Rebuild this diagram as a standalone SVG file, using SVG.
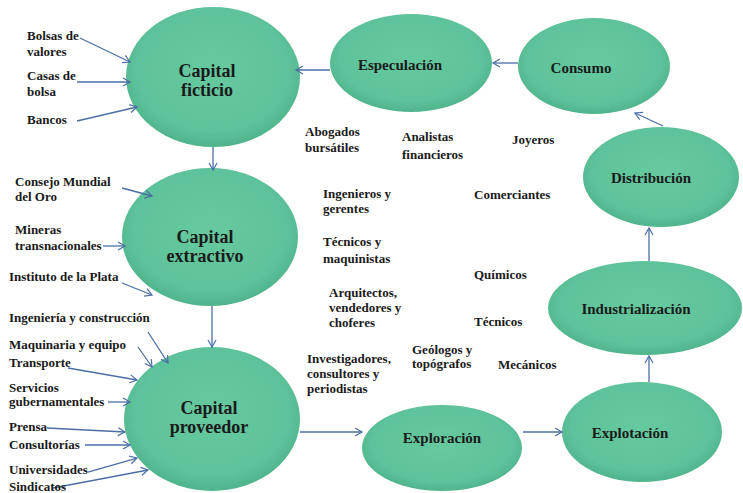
<svg xmlns="http://www.w3.org/2000/svg" width="743" height="493" viewBox="0 0 743 493">
<defs>
<radialGradient id="g" cx="0.5" cy="0.45" r="0.55">
<stop offset="0" stop-color="#66c9a0"/>
<stop offset="0.8" stop-color="#5ec29a"/>
<stop offset="1" stop-color="#4fb38b"/>
</radialGradient>
<marker id="a" markerWidth="10" markerHeight="10" refX="8" refY="5" orient="auto" markerUnits="userSpaceOnUse">
<path d="M1,1 L8,5 L1,9" fill="none" stroke="#4a6fa5" stroke-width="1.2"/>
</marker>
<style>
.n{fill:url(#g);stroke:none}
.c{stroke:#4a6fa5;stroke-width:1.3;fill:none;marker-end:url(#a)}
text{font-family:'Liberation Serif','Times New Roman','DejaVu Serif',serif;font-weight:bold;fill:#1a1a1a}
.t{font-size:13px}
.nt{font-size:15px;text-anchor:middle}
.bt{font-size:18px;text-anchor:middle}
</style>
</defs>
<rect width="743" height="493" fill="#ffffff"/>
<g id="capital-ficticio">
<ellipse class="n" cx="213" cy="77" rx="87" ry="70"/>
<text class="bt" x="207" y="77">Capital</text>
<text class="bt" x="207" y="96">ficticio</text>
</g>
<g id="capital-extractivo">
<ellipse class="n" cx="210" cy="237" rx="88" ry="69"/>
<text class="bt" x="205" y="243">Capital</text>
<text class="bt" x="205" y="262">extractivo</text>
</g>
<g id="capital-proveedor">
<ellipse class="n" cx="212" cy="419" rx="88" ry="72"/>
<text class="bt" x="209" y="414">Capital</text>
<text class="bt" x="209" y="433">proveedor</text>
</g>
<g id="especulacion">
<ellipse class="n" cx="411" cy="63" rx="81" ry="49"/>
<text class="nt" x="400" y="70">Especulación</text>
</g>
<g id="consumo">
<ellipse class="n" cx="594" cy="66" rx="76" ry="48"/>
<text class="nt" x="581" y="73">Consumo</text>
</g>
<g id="distribucion">
<ellipse class="n" cx="661" cy="177" rx="78" ry="50"/>
<text class="nt" x="651" y="183">Distribución</text>
</g>
<g id="industrializacion">
<ellipse class="n" cx="645" cy="308" rx="97" ry="47"/>
<text class="nt" x="636" y="314">Industrialización</text>
</g>
<g id="exploracion">
<ellipse class="n" cx="442" cy="448" rx="80" ry="43"/>
<text class="nt" x="442" y="443">Exploración</text>
</g>
<g id="explotacion">
<ellipse class="n" cx="642" cy="432" rx="80" ry="50"/>
<text class="nt" x="630" y="438">Explotación</text>
</g>
<g id="connectors">
<line class="c" x1="213" y1="147" x2="213" y2="170"/>
<line class="c" x1="212" y1="306" x2="212" y2="347"/>
<line class="c" x1="330" y1="70" x2="296" y2="70"/>
<line class="c" x1="518" y1="63" x2="493" y2="63"/>
<line class="c" x1="663" y1="126" x2="635" y2="113"/>
<line class="c" x1="649" y1="261" x2="649" y2="228"/>
<line class="c" x1="649" y1="382" x2="649" y2="356"/>
<line class="c" x1="300" y1="432" x2="362" y2="432"/>
<line class="c" x1="523" y1="432" x2="562" y2="432"/>
<line class="c" x1="80" y1="38" x2="130" y2="62"/>
<line class="c" x1="77" y1="82" x2="130" y2="82"/>
<line class="c" x1="77" y1="121" x2="137" y2="107"/>
<line class="c" x1="122" y1="188" x2="152" y2="196"/>
<line class="c" x1="103" y1="246" x2="125" y2="246"/>
<line class="c" x1="122" y1="283" x2="152" y2="295"/>
<line class="c" x1="148" y1="332" x2="168" y2="363"/>
<line class="c" x1="138" y1="347" x2="152" y2="367"/>
<line class="c" x1="68" y1="368" x2="137" y2="380"/>
<line class="c" x1="108" y1="402" x2="130" y2="402"/>
<line class="c" x1="47" y1="428" x2="125" y2="432"/>
<line class="c" x1="85" y1="445" x2="130" y2="445"/>
<line class="c" x1="88" y1="472" x2="137" y2="458"/>
<line class="c" x1="53" y1="488" x2="148" y2="470"/>
</g>
<g id="labels">
<text class="t" x="27" y="40">Bolsas de</text>
<text class="t" x="27" y="56">valores</text>
<text class="t" x="27" y="80">Casas de</text>
<text class="t" x="27" y="96">bolsa</text>
<text class="t" x="27" y="124">Bancos</text>
<text class="t" x="15" y="186">Consejo Mundial</text>
<text class="t" x="15" y="201">del Oro</text>
<text class="t" x="15" y="234">Mineras</text>
<text class="t" x="15" y="250">transnacionales</text>
<text class="t" x="9" y="281">Instituto de la Plata</text>
<text class="t" x="9" y="322">Ingeniería y construcción</text>
<text class="t" x="9" y="349">Maquinaria y equipo</text>
<text class="t" x="9" y="367">Transporte</text>
<text class="t" x="9" y="392">Servicios</text>
<text class="t" x="9" y="406">gubernamentales</text>
<text class="t" x="9" y="431">Prensa</text>
<text class="t" x="9" y="449">Consultorías</text>
<text class="t" x="9" y="474">Universidades</text>
<text class="t" x="9" y="491">Sindicatos</text>
<text class="t" x="305" y="136">Abogados</text>
<text class="t" x="305" y="152">bursátiles</text>
<text class="t" x="402" y="141">Analistas</text>
<text class="t" x="402" y="159">financieros</text>
<text class="t" x="512" y="144">Joyeros</text>
<text class="t" x="323" y="198">Ingenieros y</text>
<text class="t" x="323" y="213">gerentes</text>
<text class="t" x="323" y="246">Técnicos y</text>
<text class="t" x="323" y="263">maquinistas</text>
<text class="t" x="329" y="297">Arquitectos,</text>
<text class="t" x="329" y="312">vendedores y</text>
<text class="t" x="329" y="327">choferes</text>
<text class="t" x="474" y="199">Comerciantes</text>
<text class="t" x="474" y="279">Químicos</text>
<text class="t" x="474" y="326">Técnicos</text>
<text class="t" x="307" y="363">Investigadores,</text>
<text class="t" x="307" y="378">consultores y</text>
<text class="t" x="307" y="393">periodistas</text>
<text class="t" x="412" y="354">Geólogos y</text>
<text class="t" x="412" y="368">topógrafos</text>
<text class="t" x="498" y="369">Mecánicos</text>
</g>
</svg>
